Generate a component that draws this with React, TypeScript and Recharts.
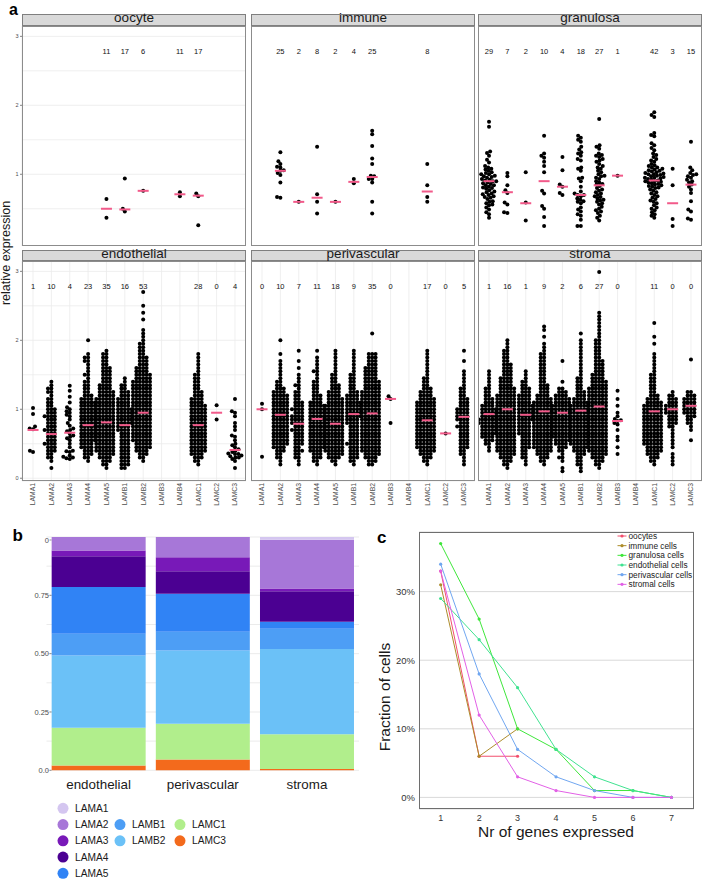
import React from 'react';
import {
  ScatterChart,
  Scatter,
  XAxis,
  YAxis,
  CartesianGrid,
  BarChart,
  Bar,
  LineChart,
  Line,
} from 'recharts';

const FONT = '"Liberation Sans", Arial, Helvetica, sans-serif';

// ---------- panel a: relative expression per cell type ----------
const genes = ['LAMA1', 'LAMA2', 'LAMA3', 'LAMA4', 'LAMA5', 'LAMB1', 'LAMB2', 'LAMB3', 'LAMB4', 'LAMC1', 'LAMC2', 'LAMC3'];

// dense groups are read as cell counts per 0.05 step, starting at lo
const bins = (lo: number, counts: number[]) =>
  counts.flatMap((n, i) => Array.from({ length: n }, () => Math.round((lo + i * 0.05) * 100) / 100));

const oocyteCounts = ['', '', '', '', '11', '17', '6', '', '11', '17', '', ''];
const oocyteMedians = [null, null, null, null, 0.5, 0.49, 0.76, null, 0.71, 0.69, null, null];
const oocyteCells: number[][] = [
  [], [], [], [],
  [0.64, 0.37],
  [0.5, 0.46, 0.94],
  [0.76],
  [],
  [0.74, 0.68],
  [0.68, 0.72, 0.26],
  [], [],
];

const immuneCounts = ['', '25', '2', '8', '2', '4', '25', '', '', '8', '', ''];
const immuneMedians = [null, 1.05, 0.6, 0.66, 0.6, 0.89, 0.96, null, null, 0.75, null, null];
const immuneCells: number[][] = [
  [],
  [1.32, 1.19, 1.15, 1.1, 1.11, 1.06, 0.99, 1.02, 0.88, 0.67, 0.66, 1.05],
  [0.6],
  [1.4, 0.71, 0.6, 0.43],
  [0.6],
  [0.93, 0.87],
  [1.63, 1.58, 1.41, 1.23, 1.15, 0.93, 0.97, 0.88, 0.98, 0.93, 0.6, 0.43],
  [], [],
  [1.15, 0.84, 0.67, 0.6],
  [], [],
];

const granulosaCounts = ['29', '7', '2', '10', '4', '18', '27', '1', '', '42', '3', '15'];
const granulosaMedians = [0.9, 0.74, 0.58, 0.9, 0.82, 0.7, 0.84, 0.98, null, 0.91, 0.58, 0.85];
const granulosaCells: number[][] = [
  [1.76, 1.69, 1.33, 1.31, 1.27, 1.21, 1.17, 1.12, 1.1, 1.08, 1.07, 1.05, 1.03, 1.02, 1.0, 1.0, 0.98, 0.97, 0.96, 0.95,
    0.93, 0.92, 0.91, 0.9, 0.9, 0.88, 0.87, 0.86, 0.84, 0.84, 0.82, 0.81, 0.8, 0.79, 0.77, 0.75, 0.74, 0.72, 0.71, 0.7,
    0.68, 0.67, 0.66, 0.64, 0.61, 0.6, 0.58, 0.56, 0.55, 0.52, 0.49, 0.45, 0.42, 0.37],
  [1.02, 0.97, 0.84, 0.77, 0.73, 0.59, 0.56, 0.45, 0.44],
  [1.03, 0.59, 0.33],
  [1.56, 1.3, 1.27, 1.24, 1.18, 1.12, 1.03, 0.76, 0.72, 0.54, 0.5, 0.38, 0.25],
  [1.25, 1.06, 0.85, 0.82, 0.73, 0.7],
  [1.56, 1.53, 1.5, 1.47, 1.4, 1.36, 1.32, 1.3, 1.27, 1.22, 1.2, 1.1, 1.08, 1.05, 0.95, 0.94, 0.9, 0.82, 0.75, 0.72,
    0.7, 0.7, 0.68, 0.65, 0.63, 0.61, 0.6, 0.58, 0.52, 0.49, 0.46, 0.42, 0.4, 0.34, 0.25, 0.25],
  [1.8, 1.42, 1.4, 1.37, 1.3, 1.28, 1.27, 1.25, 1.22, 1.2, 1.18, 1.15, 1.12, 1.1, 1.08, 1.05, 1.03, 1.0, 0.98, 0.97,
    0.95, 0.93, 0.9, 0.88, 0.86, 0.85, 0.83, 0.8, 0.78, 0.76, 0.74, 0.72, 0.7, 0.68, 0.67, 0.65, 0.63, 0.62, 0.6, 0.58,
    0.56, 0.53, 0.5, 0.48, 0.46, 0.44, 0.4, 0.37, 0.33],
  [0.98],
  [],
  [1.9, 1.86, 1.83, 1.6, 1.57, 1.55, 1.45, 1.42, 1.38, 1.35, 1.3, 1.28, 1.25, 1.22, 1.2, 1.18, 1.15, 1.13, 1.12, 1.1,
    1.1, 1.08, 1.07, 1.06, 1.05, 1.04, 1.03, 1.02, 1.01, 1.0, 1.0, 0.99, 0.98, 0.97, 0.96, 0.95, 0.95, 0.94, 0.93, 0.92,
    0.91, 0.9, 0.9, 0.89, 0.88, 0.87, 0.86, 0.85, 0.84, 0.83, 0.82, 0.81, 0.8, 0.78, 0.76, 0.74, 0.72, 0.7, 0.68, 0.66,
    0.64, 0.62, 0.6, 0.58, 0.55, 0.52, 0.5, 0.48, 0.45, 0.42, 0.4, 0.37],
  [1.08, 0.84, 0.35, 0.25],
  [1.47, 1.1, 1.06, 1.02, 1.0, 0.99, 0.97, 0.95, 0.92, 0.9, 0.88, 0.85, 0.82, 0.78, 0.73, 0.61, 0.49, 0.46, 0.36, 0.34],
];

const endothelialCounts = ['1', '10', '4', '23', '35', '16', '53', '', '', '28', '0', '4'];
const endothelialMedians = [0.7, 0.64, 0.66, 0.77, 0.81, 0.77, 0.95, null, null, 0.77, 0.95, 0.41];
const endothelialCells: number[][] = [
  [0.71, 0.93, 1.02, 0.75, 0.4, 0.38, 0.72],
  bins(0.15, [1, 0, 1, 2, 2, 3, 3, 4, 3, 3, 3, 4, 3, 3, 3, 4, 3, 3, 2, 2, 2, 1, 2, 2, 1, 1]),
  [0.28, 0.29, 0.3, 0.31, 0.33, 0.38, 0.39, 0.4, 0.45, 0.5, 0.55, 0.58, 0.6, 0.62, 0.65, 0.68, 0.7, 0.72, 0.76, 0.8,
    0.85, 0.9, 0.92, 0.95, 0.97, 1.0, 1.03, 1.1, 1.18, 1.27, 1.34],
  bins(0.25, [1, 2, 3, 3, 4, 4, 5, 5, 5, 5, 5, 5, 5, 5, 5, 5, 5, 5, 4, 3, 2, 2, 2, 2, 1, 2, 1, 1, 1, 2, 2, 1, 0, 0, 0, 1]),
  bins(0.15, [1, 2, 3, 4, 5, 6, 6, 6, 6, 6, 6, 6, 6, 6, 6, 6, 6, 6, 6, 6, 6, 5, 5, 4, 4, 3, 3, 3, 3, 3, 2, 2, 2, 2, 1]),
  bins(0.15, [2, 3, 3, 3, 3, 3, 3, 3, 3, 3, 3, 4, 4, 5, 5, 5, 5, 5, 4, 4, 4, 3, 3, 2, 2, 1, 1]),
  bins(0.25, [1, 2, 3, 4, 5, 5, 6, 6, 6, 6, 6, 6, 6, 6, 6, 6, 6, 6, 6, 6, 6, 6, 6, 6, 5, 5, 4, 4, 3, 3,
    3, 2, 2, 2, 2, 1, 1, 1, 1, 0, 0, 1, 0, 1, 0, 1, 0, 0, 0, 1]),
  [],
  [],
  bins(0.2, [1, 2, 3, 4, 5, 5, 5, 5, 5, 5, 5, 5, 5, 5, 5, 5, 5, 5, 4, 4, 3, 3, 2, 2, 2, 2, 2, 1, 1, 1, 1, 1, 1]),
  [1.06, 0.85],
  [0.15, 0.25, 0.28, 0.3, 0.32, 0.33, 0.35, 0.36, 0.38, 0.4, 0.42, 0.45, 0.48, 0.5, 0.55, 0.6, 0.62, 0.7, 0.75, 0.8,
    0.9, 0.95, 0.97, 1.15, 0.35, 0.3],
];

const perivascularCounts = ['0', '10', '7', '11', '18', '9', '35', '0', '', '17', '0', '5'];
const perivascularMedians = [1.0, 0.92, 0.79, 0.86, 0.79, 0.93, 0.94, 1.15, null, 0.84, 0.65, 0.89];
const perivascularCells: number[][] = [
  [1.08, 1.0, 0.31],
  bins(0.2, [1, 1, 2, 2, 3, 4, 5, 5, 5, 5, 5, 5, 5, 5, 5, 5, 5, 5, 5, 5, 5, 4, 3, 2, 2, 1, 1, 1, 1, 1, 1, 0, 1, 0, 0, 0, 1]),
  bins(0.2, [1, 1, 2, 2, 3, 2, 3, 3, 3, 3, 4, 3, 4, 4, 4, 3, 4, 3, 3, 2, 2, 2, 1, 2, 1, 1, 1, 0, 1, 0, 1, 0, 0, 1]),
  bins(0.2, [1, 2, 3, 3, 4, 5, 5, 5, 5, 5, 5, 5, 5, 5, 5, 5, 5, 5, 4, 3, 3, 2, 2, 2, 2, 1, 1, 2, 1, 1, 1, 1, 0, 1]),
  bins(0.2, [1, 2, 4, 5, 6, 6, 6, 6, 6, 6, 6, 6, 6, 6, 6, 6, 6, 6, 5, 5, 4, 4, 3, 3, 2, 2, 2, 1, 1, 1, 1, 1, 1, 1]),
  bins(0.2, [1, 2, 3, 3, 3, 3, 4, 3, 3, 3, 3, 3, 4, 4, 5, 5, 5, 5, 5, 4, 4, 3, 2, 2, 2, 2, 2, 1, 1, 1, 1, 1, 1, 1]),
  bins(0.2, [2, 3, 4, 5, 6, 6, 6, 6, 6, 6, 6, 6, 6, 6, 6, 6, 6, 6, 6, 6, 6, 6, 5, 5, 5, 4, 4, 4, 4, 3,
    3, 3, 3, 0, 0, 0, 0, 0, 1]),
  [1.15, 1.19, 0.8],
  [],
  bins(0.2, [1, 2, 3, 4, 5, 6, 6, 6, 6, 6, 6, 6, 6, 6, 6, 6, 6, 6, 6, 5, 4, 4, 3, 2, 2, 2, 1, 1, 1, 1, 1, 1, 1, 1]),
  [0.65],
  bins(0.2, [1, 1, 1, 2, 2, 3, 3, 3, 3, 3, 3, 4, 3, 4, 4, 4, 4, 3, 3, 3, 2, 2, 2, 1, 1, 1, 1, 1, 0, 0, 1, 0, 0, 1]),
];

const stromaCounts = ['1', '16', '1', '9', '2', '6', '27', '0', '', '11', '0', '0'];
const stromaMedians = [0.93, 1.0, 0.92, 0.97, 0.95, 0.98, 1.04, 0.83, null, 0.97, 1.0, 1.05];
const stromaCells: number[][] = [
  bins(0.4, [1, 1, 2, 3, 4, 5, 5, 5, 6, 6, 5, 5, 5, 4, 3, 3, 2, 2, 2, 1, 1, 1, 1, 1]),
  bins(0.15, [1, 2, 3, 4, 5, 6, 6, 6, 6, 6, 6, 6, 6, 6, 6, 6, 6, 6, 6, 6, 6, 6, 5, 5, 4, 4, 4, 3, 3, 3,
    3, 2, 2, 2, 2, 1, 1, 1]),
  bins(0.2, [1, 1, 2, 2, 2, 3, 3, 3, 3, 4, 4, 4, 4, 5, 5, 5, 5, 5, 4, 4, 4, 3, 3, 2, 2, 1, 1, 1]),
  bins(0.2, [1, 2, 3, 4, 5, 6, 6, 6, 6, 6, 6, 6, 6, 6, 6, 6, 6, 6, 6, 5, 4, 3, 3, 3, 2, 2, 2, 2, 2, 2,
    2, 2, 2, 1, 1, 1, 0, 1, 0, 1, 1]),
  bins(0.1, [1, 1, 0, 1, 2, 1, 2, 3, 4, 5, 6, 6, 6, 6, 6, 6, 6, 6, 6, 6, 5, 5, 4, 3, 2, 0, 1, 0, 0, 0, 0, 0, 1]),
  bins(0.1, [1, 1, 2, 2, 2, 3, 4, 5, 6, 6, 6, 6, 6, 6, 6, 6, 6, 6, 6, 6, 5, 4, 3, 3, 2, 2, 2, 2, 1, 1,
    1, 1, 1, 1, 1, 1, 1, 1, 1, 0, 1]),
  [...bins(0.15, [1, 2, 3, 4, 5, 6, 6, 6, 6, 6, 6, 6, 6, 6, 6, 6, 6, 6, 6, 6, 6, 6, 6, 6, 5, 5, 4, 4, 3, 3,
    3, 3, 2, 2, 2, 2, 2, 2, 1, 1, 1, 1, 1, 1, 1, 1]), 2.99],
  [1.27, 1.15, 1.05, 0.95, 0.9, 0.86, 0.84, 0.83, 0.8, 0.78, 0.7, 0.6, 0.55, 0.45, 0.35],
  [],
  bins(0.2, [1, 2, 3, 4, 5, 5, 6, 6, 6, 6, 6, 6, 6, 6, 6, 6, 6, 6, 5, 4, 3, 2, 2, 2, 2, 2, 2, 1, 1, 1,
    1, 1, 1, 0, 0, 1, 0, 1, 0, 0, 0, 1]),
  bins(0.2, [1, 1, 1, 1, 0, 1, 1, 1, 1, 1, 1, 2, 3, 3, 3, 4, 4, 4, 3, 3, 2, 1]),
  [...bins(0.55, [1, 0, 0, 1, 1, 2, 2, 3, 4, 4, 4, 4, 4, 3, 2]), 1.72],
];

// ---------- panel b: share of each laminin per cell type ----------
const barCells = ['endothelial', 'perivascular', 'stroma'];
const lama1Share = [0, 0, 0.012];
const lama2Share = [0.058, 0.087, 0.209];
const lama3Share = [0.025, 0.06, 0.012];
const lama4Share = [0.131, 0.096, 0.13];
const lama5Share = [0.201, 0.163, 0.03];
const lamb1Share = [0.093, 0.081, 0.087];
const lamb2Share = [0.31, 0.313, 0.366];
const lamc1Share = [0.161, 0.154, 0.148];
const lamc3Share = [0.021, 0.046, 0.006];

// bottom of the stack first
const stack = [
  { key: 'LAMC3', values: lamc3Share, color: '#f36a1c' },
  { key: 'LAMC1', values: lamc1Share, color: '#b1ee8c' },
  { key: 'LAMB2', values: lamb2Share, color: '#6bc1f7' },
  { key: 'LAMB1', values: lamb1Share, color: '#4d9ef5' },
  { key: 'LAMA5', values: lama5Share, color: '#3083f5' },
  { key: 'LAMA4', values: lama4Share, color: '#4b0092' },
  { key: 'LAMA3', values: lama3Share, color: '#7819b8' },
  { key: 'LAMA2', values: lama2Share, color: '#a777d8' },
  { key: 'LAMA1', values: lama1Share, color: '#d4c6f0' },
];

const barData = barCells.map((name, i) => {
  const row: any = { name };
  stack.forEach((s) => (row[s.key] = s.values[i]));
  return row;
});

// ---------- panel c: number of laminin genes expressed ----------
const nGenes = [1, 2, 3, 4, 5, 6, 7];
const oocytesPct = [33, 6, 6];
const immunePct = [31, 6, 10];
const granulosaPct = [37, 26, 10, 7, 1, 1, 0];
const endothelialPct = [29, 23, 16, 7, 3, 1, 0];
const perivascularPct = [34, 18, 7, 3, 1, 0, 0];
const stromalPct = [33, 12, 3, 1, 0, 0, 0];

const lineSeries = [
  { name: 'oocytes', values: oocytesPct, color: '#f24e6c' },
  { name: 'immune cells', values: immunePct, color: '#ad8c2a' },
  { name: 'granulosa cells', values: granulosaPct, color: '#3ee63a' },
  { name: 'endothelial cells', values: endothelialPct, color: '#3fe290' },
  { name: 'perivascular cells', values: perivascularPct, color: '#6fa6f0' },
  { name: 'stromal cells', values: stromalPct, color: '#e25fe6' },
];

// ---------- facet layout ----------
const PANEL_W = 224;
const PANEL_H = 220;
const Y_DOMAIN = [-0.04, 3.15];
const PX_X = PANEL_W / 12.2;
const PX_Y = PANEL_H / (Y_DOMAIN[1] - Y_DOMAIN[0]);
const DOT_D = 3.4;

// simple beeswarm: each cell keeps its value, only a sideways offset is added
function swarm(values: number[]) {
  const placed: { v: number; y: number; x: number }[] = [];
  [...values].sort((a, b) => a - b).forEach((v) => {
    const y = v * PX_Y;
    const blocks: [number, number][] = [];
    placed.forEach((p) => {
      const dy = Math.abs(p.y - y);
      if (dy < DOT_D) {
        const w = Math.sqrt(DOT_D * DOT_D - dy * dy);
        blocks.push([p.x - w, p.x + w]);
      }
    });
    const cands = [0, ...blocks.flat()].sort((a, b) => Math.abs(a) - Math.abs(b));
    const x = cands.find((c) => blocks.every(([lo, hi]) => c <= lo + 1e-6 || c >= hi - 1e-6)) ?? 0;
    placed.push({ v, y, x });
  });
  return placed;
}

function Facet({ title, cells, medians, counts, left, top, leftAxis, bottomAxis }: any) {
  const yW = leftAxis ? 12 : 0;
  const xH = bottomAxis ? 30 : 0;
  const dots = (cells as number[][]).flatMap((vals, i) =>
    swarm(vals).map((p) => ({ x: i + p.x / PX_X, y: p.v })),
  );
  const meds = (medians as (number | null)[])
    .map((m, i) => (m == null ? null : { x: i, y: m }))
    .filter(Boolean);
  const labs = (counts as string[])
    .map((c, i) => ({ x: i, y: 2.78, label: c }))
    .filter((d) => d.label !== '');

  return (
    <>
      <div
        style={{
          position: 'absolute',
          left,
          top: top - 11.5,
          width: PANEL_W,
          height: 11.5,
          background: '#d9d9d9',
          border: '1px solid #7f7f7f',
          boxSizing: 'border-box',
          textAlign: 'center',
          fontSize: 13.5,
          lineHeight: '5px',
          color: '#1a1a1a',
          overflow: 'visible',
        }}
      >
        {title}
      </div>
      <div style={{ position: 'absolute', left: left - yW, top }}>
        <ScatterChart width={PANEL_W + yW} height={PANEL_H + xH} margin={{ top: 0, right: 0, bottom: 0, left: 0 }}>
          <CartesianGrid stroke="#ebebeb" strokeWidth={0.8} />
          <XAxis
            type="number"
            dataKey="x"
            domain={[-0.6, 11.6]}
            ticks={genes.map((_, i) => i)}
            interval={0}
            allowDataOverflow
            height={xH}
            axisLine={false}
            tickLine={false}
            tickSize={0}
            tickMargin={2}
            tick={
              bottomAxis
                ? (p: any) => (
                    <text
                      x={p.x}
                      y={p.y}
                      transform={`rotate(-90 ${p.x} ${p.y})`}
                      textAnchor="end"
                      dy="0.35em"
                      fontSize={6.8}
                      fill="#4d4d4d"
                    >
                      {genes[p.payload.value]}
                    </text>
                  )
                : false
            }
          />
          <YAxis
            type="number"
            dataKey="y"
            domain={Y_DOMAIN}
            ticks={[0, 0.5, 1, 1.5, 2, 2.5, 3]}
            allowDataOverflow
            width={yW}
            axisLine={false}
            tickLine={false}
            tickSize={0}
            tickMargin={0}
            tick={
              leftAxis
                ? (p: any) =>
                    Number.isInteger(p.payload.value) ? (
                      <g>
                        <line x1={p.x - 2} x2={p.x} y1={p.y} y2={p.y} stroke="#333" strokeWidth={0.6} />
                        <text x={p.x - 3.5} y={p.y} dy="0.35em" textAnchor="end" fontSize={5.5} fill="#4d4d4d">
                          {p.payload.value}
                        </text>
                      </g>
                    ) : (
                      <g />
                    )
                : false
            }
          />
          <Scatter
            data={dots}
            isAnimationActive={false}
            shape={(p: any) => <circle cx={p.cx} cy={p.cy} r={2} fill="#000" />}
          />
          <Scatter
            data={meds}
            isAnimationActive={false}
            shape={(p: any) => (
              <line x1={p.cx - 5.5} x2={p.cx + 5.5} y1={p.cy} y2={p.cy} stroke="#f25a8a" strokeWidth={2} />
            )}
          />
          <Scatter
            data={labs}
            isAnimationActive={false}
            shape={(p: any) => (
              <text x={p.cx} y={p.cy} dy="0.35em" textAnchor="middle" fontSize={7.5} fill="#111">
                {p.payload.label}
              </text>
            )}
          />
        </ScatterChart>
      </div>
      <div
        style={{
          position: 'absolute',
          left,
          top,
          width: PANEL_W,
          height: PANEL_H,
          border: '1px solid #8c8c8c',
          boxSizing: 'border-box',
          pointerEvents: 'none',
        }}
      />
    </>
  );
}

const facets = [
  { title: 'oocyte', cells: oocyteCells, medians: oocyteMedians, counts: oocyteCounts, left: 22, top: 25.5 },
  { title: 'immune', cells: immuneCells, medians: immuneMedians, counts: immuneCounts, left: 251, top: 25.5 },
  { title: 'granulosa', cells: granulosaCells, medians: granulosaMedians, counts: granulosaCounts, left: 478, top: 25.5 },
  { title: 'endothelial', cells: endothelialCells, medians: endothelialMedians, counts: endothelialCounts, left: 22, top: 261 },
  { title: 'perivascular', cells: perivascularCells, medians: perivascularMedians, counts: perivascularCounts, left: 251, top: 261 },
  { title: 'stroma', cells: stromaCells, medians: stromaMedians, counts: stromaCounts, left: 478, top: 261 },
];

const barTicks = [0, 0.125, 0.25, 0.375, 0.5, 0.625, 0.75, 0.875, 1];
const barTickLabel = (v: number) => {
  if (v === 1) return '0'; // the 1.00 label is cut off in the figure
  if (v === 0) return '0.0';
  return (v * 4) % 1 === 0 ? v.toFixed(2) : '';
};

export default function App() {
  // legend b: LAMA genes in the first column, LAMB and LAMC start one row lower
  const legendB = ['A', 'B', 'C'].flatMap((letter, col) =>
    stack
      .filter((s) => s.key[3] === letter)
      .reverse()
      .map((s, i) => ({ ...s, col, row: letter === 'A' ? i : i + 1 })),
  );

  return (
    <div style={{ position: 'absolute', left: 0, top: 0, width: 703, height: 880, background: '#fff', fontFamily: FONT }}>
      {facets.map((f, i) => (
        <Facet key={f.title} {...f} leftAxis={i % 3 === 0} bottomAxis={i >= 3} />
      ))}

      {/* panel b */}
      <div style={{ position: 'absolute', left: 0, top: 531.4 }}>
        <BarChart
          width={361}
          height={267.3}
          data={barData}
          margin={{ top: 6, right: 2, bottom: 0, left: 0 }}
          barCategoryGap="4.95%"
        >
          <CartesianGrid vertical={false} stroke="#ebebeb" />
          <XAxis
            dataKey="name"
            height={28}
            axisLine={false}
            tickLine={false}
            tickSize={0}
            tickMargin={0}
            tick={(p: any) => (
              <text x={p.x} y={p.y} dy={18.3} textAnchor="middle" fontSize={13.4} fill="#1a1a1a">
                {p.payload.value}
              </text>
            )}
          />
          <YAxis
            type="number"
            domain={[0, 1]}
            ticks={barTicks}
            width={46.5}
            axisLine={false}
            tickLine={false}
            tickSize={0}
            tickMargin={0}
            tick={(p: any) => {
              const label = barTickLabel(p.payload.value);
              return label ? (
                <g>
                  <text x={p.x + 2.5} y={p.y} dy="0.35em" textAnchor="end" fontSize={7.5} fill="#4d4d4d">
                    {label}
                  </text>
                  <line x1={p.x + 3} x2={p.x + 5} y1={p.y} y2={p.y} stroke="#4d4d4d" strokeWidth={0.6} />
                </g>
              ) : (
                <g />
              );
            }}
          />
          {stack.map((s) => (
            <Bar key={s.key} dataKey={s.key} stackId="laminin" fill={s.color} isAnimationActive={false} />
          ))}
        </BarChart>
      </div>

      {/* panel c */}
      <div style={{ position: 'absolute', left: 379.3, top: 530.3 }}>
        <LineChart width={316.7} height={299} margin={{ top: 2, right: 2, bottom: 0, left: 0 }}>
          <CartesianGrid vertical={false} stroke="#d9d9d9" />
          <XAxis
            type="number"
            dataKey="n"
            domain={[0.436, 7.58]}
            ticks={nGenes}
            interval={0}
            allowDataOverflow
            height={20}
            axisLine={false}
            tickLine={false}
            tickSize={0}
            tickMargin={0}
            tick={(p: any) => (
              <text x={p.x} y={p.y} dy={11.7} textAnchor="middle" fontSize={9} fill="#333">
                {p.payload.value}
              </text>
            )}
          />
          <YAxis
            type="number"
            domain={[-1.69, 38.69]}
            ticks={[0, 10, 20, 30]}
            allowDataOverflow
            width={40}
            axisLine={false}
            tickLine={false}
            tickSize={0}
            tickMargin={0}
            tick={(p: any) => (
              <text x={p.x - 4} y={p.y} dy="0.35em" textAnchor="end" fontSize={9.5} fill="#333">
                {`${p.payload.value}%`}
              </text>
            )}
          />
          {lineSeries.map((s) => (
            <Line
              key={s.name}
              data={s.values.map((v, i) => ({ n: nGenes[i], pct: v }))}
              dataKey="pct"
              stroke={s.color}
              strokeWidth={1}
              dot={{ r: 1.6, fill: s.color, stroke: s.color, strokeWidth: 0 }}
              activeDot={false}
              isAnimationActive={false}
            />
          ))}
        </LineChart>
      </div>
      <div
        style={{
          position: 'absolute',
          left: 419.3,
          top: 532.3,
          width: 274.7,
          height: 277,
          border: '1px solid #6e6e6e',
          boxSizing: 'border-box',
          pointerEvents: 'none',
        }}
      />

      {/* titles and legends */}
      <svg
        width={703}
        height={880}
        style={{ position: 'absolute', left: 0, top: 0, pointerEvents: 'none', fontFamily: FONT }}
      >
        <text x={9} y={15} fontSize={16} fontWeight="bold" fill="#000">a</text>
        <text x={12.5} y={540.5} fontSize={17} fontWeight="bold" fill="#000">b</text>
        <text x={377} y={543} fontSize={17} fontWeight="bold" fill="#000">c</text>

        <text x={10} y={253} transform="rotate(-90 10 253)" textAnchor="middle" fontSize={12.5} fill="#1a1a1a">
          relative expression
        </text>

        <text x={390} y={697} transform="rotate(-90 390 697)" textAnchor="middle" fontSize={15.5} fill="#1a1a1a">
          Fraction of cells
        </text>
        <text x={556} y={837} textAnchor="middle" fontSize={15.5} fill="#1a1a1a">
          Nr of genes expressed
        </text>

        {legendB.map((s) => {
          const cx = [63, 120, 180][s.col];
          const cy = 808.3 + s.row * 16.25;
          return (
            <g key={s.key}>
              <circle cx={cx} cy={cy} r={5.5} fill={s.color} />
              <text x={cx + 12} y={cy} dy="0.35em" fontSize={10.2} fill="#1a1a1a">{s.key}</text>
            </g>
          );
        })}

        {lineSeries.map((s, i) => {
          const cy = 536 + i * 9.67;
          return (
            <g key={s.name}>
              <line x1={617.5} x2={626.5} y1={cy} y2={cy} stroke={s.color} strokeWidth={1} />
              <circle cx={622} cy={cy} r={1.6} fill={s.color} />
              <text x={628.5} y={cy} dy="0.35em" fontSize={8.3} fill="#222">{s.name}</text>
            </g>
          );
        })}
      </svg>
    </div>
  );
}
